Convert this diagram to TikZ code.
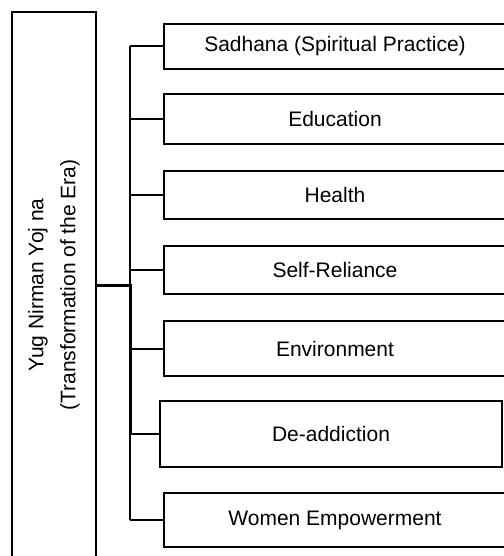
\documentclass[tikz,border=0pt]{standalone}
\usepackage{fontspec}
\setmainfont{Liberation Sans}
\usepackage{tikz}

\begin{document}
\begin{tikzpicture}[x=0.5pt,y=-0.5pt]
\tikzstyle{every node}+=[inner sep=0pt, font=\fontsize{10.5}{16}\selectfont]
\tikzstyle{item}=[draw=black, line width=1pt, minimum width=171pt]
\tikzstyle{branch}=[black, line width=1pt]
\useasboundingbox (0,0) rectangle (503,556);
\node [draw=black, line width=1pt, rotate=90, minimum width=273pt, minimum height=42pt, align=center] (yug) at (54,285) {Yug Nirman Yoj na\\(Transformation of the Era)};
\node [item, minimum height=22.5pt] (sadhana) at (335,46.5) {Sadhana (Spiritual Practice)};
\node [item, minimum height=25pt] (education) at (335,119) {Education};
\node [item, minimum height=24pt] (health) at (335,195) {Health};
\node [item, minimum height=24pt] (reliance) at (335,270) {Self-Reliance};
\node [item, minimum height=27.5pt] (environment) at (335,348.5) {Environment};
\node [item, minimum height=33pt] (addiction) at (331,434) {De-addiction};
\node [item, minimum height=27pt] (women) at (335,520) {Women Empowerment};
\coordinate (trunk) at (130,0);
\draw [branch] (trunk |- sadhana.west) -- (trunk |- women.west);
\foreach \n in {sadhana,education,health,reliance,environment,addiction,women}
  \draw [branch] (trunk |- \n.west) -- (\n.west);
\draw [black, line width=1.5pt] (yug.south) -- (trunk |- yug.south) -- (trunk |- addiction.west);
\end{tikzpicture}
\end{document}
